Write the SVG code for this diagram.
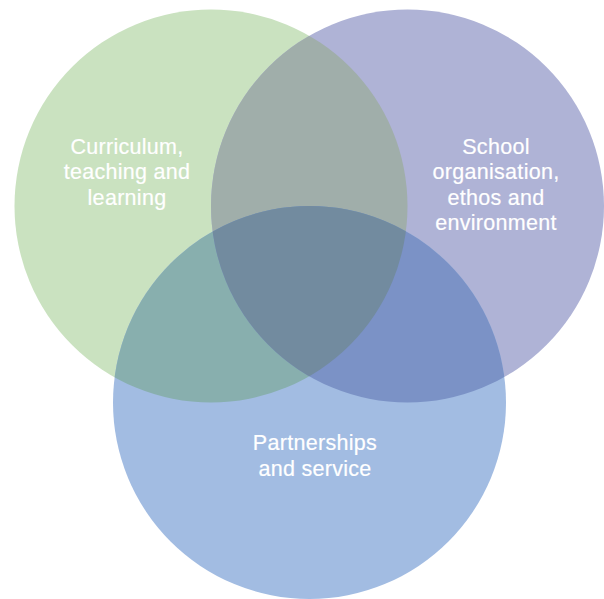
<svg xmlns="http://www.w3.org/2000/svg" width="604" height="599" viewBox="0 0 604 599">
<defs>
<clipPath id="clip-green"><circle cx="211" cy="206" r="196.500"/></clipPath>
<clipPath id="clip-purple"><circle cx="407.500" cy="206" r="196.500"/></clipPath>
<clipPath id="clip-blue"><circle cx="309.500" cy="402.500" r="196.500"/></clipPath>
</defs>
<style>
text{font-family:"Liberation Sans",Arial,sans-serif;font-size:21.5px;letter-spacing:.3px;fill:#fff;stroke:#fff;stroke-width:.2px;text-anchor:middle}
</style>
<rect width="604" height="599" fill="#fff"/>
<g id="circle-curriculum"><circle cx="211" cy="206" r="196.500" fill="#cae2c0"/></g>
<g id="circle-school"><circle cx="407.500" cy="206" r="196.500" fill="#afb3d6"/></g>
<g id="circle-partnerships"><circle cx="309.500" cy="402.500" r="196.500" fill="#a2bce2"/></g>
<g id="overlaps">
<g clip-path="url(#clip-green)"><circle cx="407.500" cy="206" r="196.500" fill="#a0aeaa"/></g>
<g clip-path="url(#clip-green)"><circle cx="309.500" cy="402.500" r="196.500" fill="#88afae"/></g>
<g clip-path="url(#clip-purple)"><circle cx="309.500" cy="402.500" r="196.500" fill="#7b92c6"/></g>
<g clip-path="url(#clip-green)"><g clip-path="url(#clip-purple)"><circle cx="309.500" cy="402.500" r="196.500" fill="#728b9f"/></g></g>
</g>
<g id="labels">
<text x="127" y="154">Curriculum,</text><text x="127" y="179">teaching and</text><text x="127" y="205">learning</text>
<text x="496" y="154">School</text><text x="496" y="179">organisation,</text><text x="496" y="205">ethos and</text><text x="496" y="230">environment</text>
<text x="315" y="450">Partnerships</text><text x="315" y="476">and service</text>
</g>
<g id="connectors"/>
</svg>
